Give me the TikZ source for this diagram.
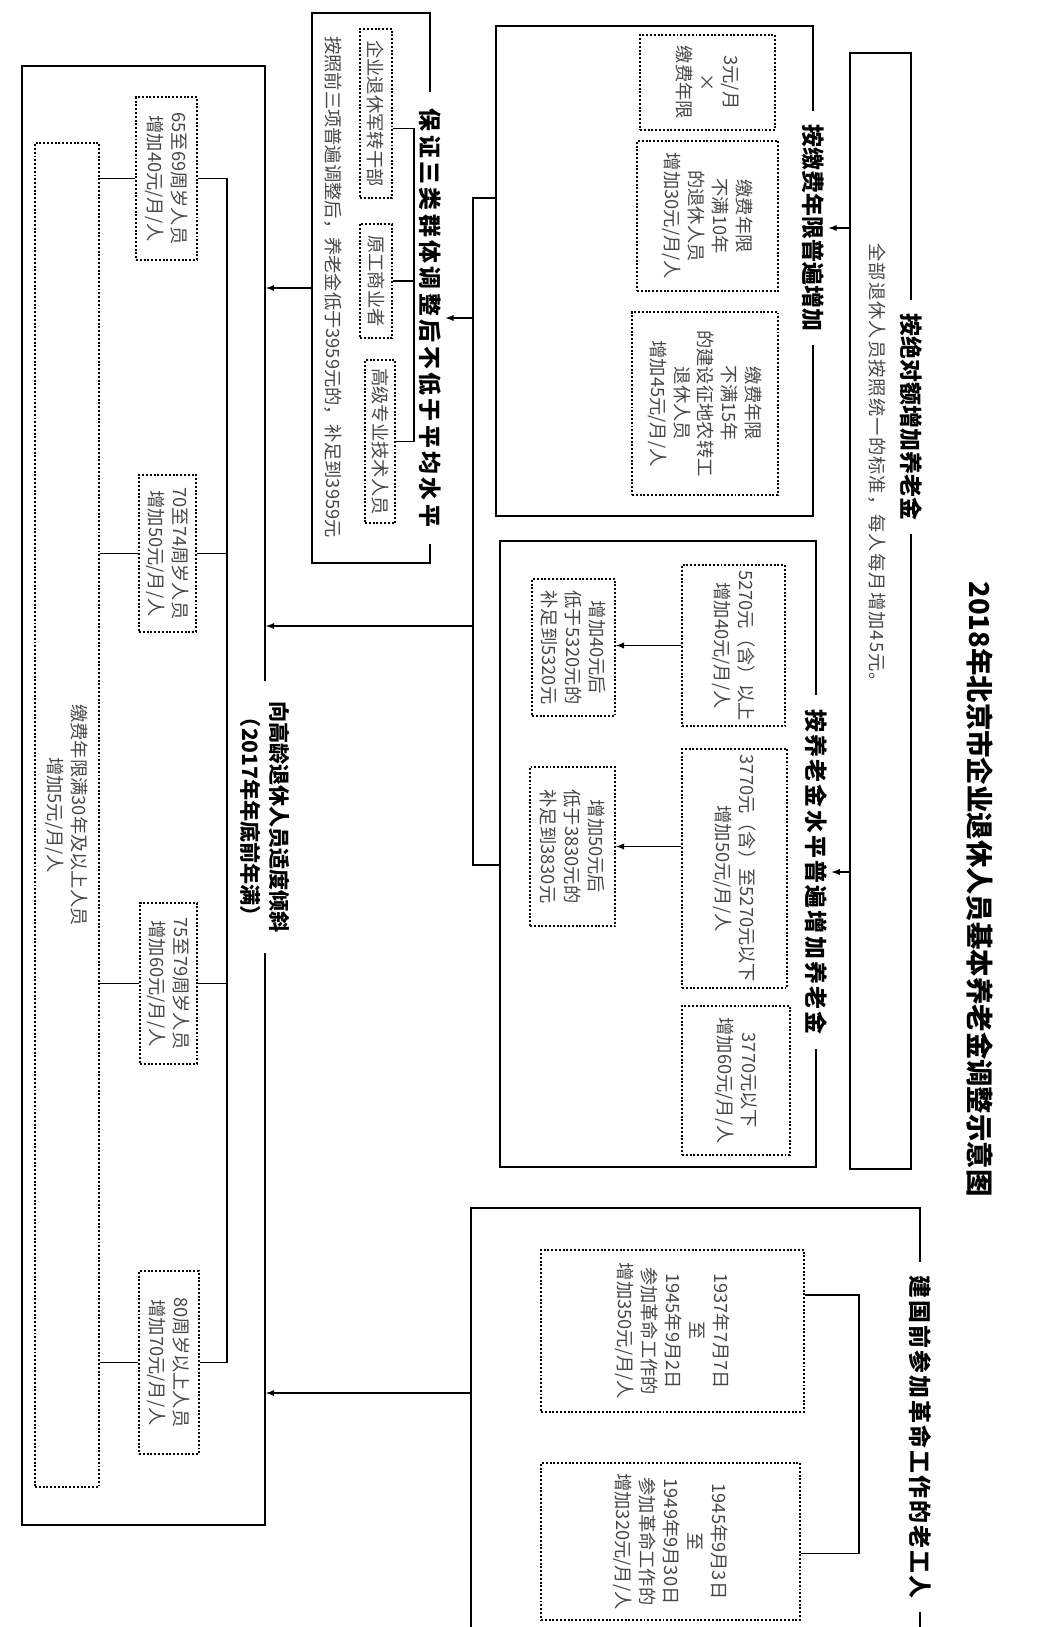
\documentclass[tikz,border=0pt]{standalone}
\usepackage{fontspec}
\setmainfont{Noto Sans CJK SC}
\usetikzlibrary{fit}
\newcommand\bodyfont{\fontsize{13}{17}\selectfont}
\newcommand\headfont{\fontsize{16.3}{20}\selectfont\bfseries}

\begin{document}
\begin{tikzpicture}[x=0.025cm, y=-0.025cm,
  secbox/.style={draw, line width=1.5pt, inner sep=0pt},
  dotbox/.style={draw, line width=1.4pt, dash pattern=on 1.4pt off 1.3pt, inner sep=0pt},
  txt/.style={rotate=-90, align=center, font=\bodyfont, text=black!72, inner sep=0pt},
  head/.style={rotate=-90, align=center, font=\headfont, fill=white, inner xsep=10pt, inner ysep=3pt},
  link/.style={line width=1pt},
  arr/.style={line width=1pt, -latex}]
  \useasboundingbox (0,0) rectangle (1038,1627);
  \clip (0,0) rectangle (1038,1627);
  \fill[white] (0,0) rectangle (1038,1627);

  \node[rotate=-90, font=\fontsize{19.5}{22}\selectfont\bfseries] (title) at (980,889)
    {2018年北京市企业退休人员基本养老金调整示意图};

  % boxes
  \node[secbox, fit={(850,53) (911,1169)}] (abs) {};
  \node[secbox, fit={(496,26) (813,516)}] (pay) {};
  \node[secbox, fit={(312,13) (430,563)}] (grt) {};
  \node[secbox, fit={(500,541) (816,1167)}] (lvl) {};
  \node[secbox, fit={(22,66) (265,1525)}] (old) {};
  \node[secbox, fit={(471,1208) (920,1690)}] (rev) {};

  \node[txt, anchor=west, font={\bodyfont\addfontfeature{LetterSpace=6}}] (absS) at (877,243) {全部退休人员按照统一的标准，每人每月增加45元。};

  \node[dotbox, fit={(640,35) (775,130)}] (pay1) {};
  \node[dotbox, fit={(637,141) (778,291)}] (pay2) {};
  \node[dotbox, fit={(632,312) (778,495)}] (pay3) {};
  \node[txt] (pay1t) at (pay1) {3元/月\\×\\缴费年限};
  \node[txt] (pay2t) at (pay2) {缴费年限\\不满10年\\的退休人员\\增加30元/月/人};
  \node[txt] (pay3t) at (pay3) {缴费年限\\不满15年\\的建设征地农转工\\退休人员\\增加45元/月/人};

  \node[dotbox, fit={(360,29) (392,198)}] (grt1) {};
  \node[dotbox, fit={(360,224) (392,338)}] (grt2) {};
  \node[dotbox, fit={(365,360) (395,523)}] (grt3) {};
  \node[txt] (grt1t) at (grt1) {企业退休军转干部};
  \node[txt] (grt2t) at (grt2) {原工商业者};
  \node[txt] (grt3t) at (grt3) {高级专业技术人员};
  \node[txt] (grtS) at (333,287) {按照前三项普遍调整后，养老金低于3959元的，补足到3959元};
  \draw[link] ([yshift=-0.38cm]grt1.east) -- ++(21,0) coordinate (grtB) -- (grtB |- grt3.east) -- (grt3.east);
  \draw[link] (grt2.east) -- (grt2.east -| grtB);

  \node[dotbox, fit={(682,565) (785,726)}] (lvl1) {};
  \node[dotbox, fit={(682,749) (787,988)}] (lvl2) {};
  \node[dotbox, fit={(682,1006) (790,1155)}] (lvl3) {};
  \node[dotbox, fit={(532,579) (615,716)}] (lvl4) {};
  \node[dotbox, fit={(530,767) (615,926)}] (lvl5) {};
  \node[txt] (lvl1t) at (lvl1) {5270元（含）以上\\增加40元/月/人};
  \node[txt] (lvl2t) at (lvl2) {3770元（含）至5270元以下\\增加50元/月/人};
  \node[txt] (lvl3t) at (lvl3) {3770元以下\\增加60元/月/人};
  \node[txt] (lvl4t) at (lvl4) {增加40元后\\低于5320元的\\补足到5320元};
  \node[txt] (lvl5t) at (lvl5) {增加50元后\\低于3830元的\\补足到3830元};
  \draw[arr] (lvl1.west) -- (lvl1.west -| lvl4.east);
  \draw[arr] (lvl2.west |- lvl5.east) -- (lvl5.east);

  \node[dotbox, fit={(136,97) (197,260)}] (age1) {};
  \node[dotbox, fit={(139,475) (196,632)}] (age2) {};
  \node[dotbox, fit={(140,903) (197,1064)}] (age3) {};
  \node[dotbox, fit={(139,1271) (199,1454)}] (age4) {};
  \node[dotbox, fit={(35,143) (99,1487)}] (yrs) {};
  \node[txt] (age1t) at (age1) {65至69周岁人员\\增加40元/月/人};
  \node[txt] (age2t) at (age2) {70至74周岁人员\\增加50元/月/人};
  \node[txt] (age3t) at (age3) {75至79周岁人员\\增加60元/月/人};
  \node[txt] (age4t) at (age4) {80周岁以上人员\\增加70元/月/人};
  \node[txt] (yrst) at (yrs) {缴费年限满30年及以上人员\\增加5元/月/人};
  \draw[link] (age1.east) -- ++(29,0) coordinate (ageB) -- (ageB |- age4.east) -- (age4.east);
  \draw[link] (age2.east) -- (age2.east -| ageB);
  \draw[link] (age3.east) -- (age3.east -| ageB);
  \draw[link] (age1.west) -- (age1.west -| yrs.east);
  \draw[link] (age2.west) -- (age2.west -| yrs.east);
  \draw[link] (age3.west) -- (age3.west -| yrs.east);
  \draw[link] (age4.west) -- (age4.west -| yrs.east);

  \node[dotbox, fit={(541,1250) (804,1412)}] (rev1) {};
  \node[dotbox, fit={(541,1463) (800,1620)}] (rev2) {};
  \node[txt] (rev1t) at (rev1) {1937年7月7日\\至\\1945年9月2日\\参加革命工作的\\增加350元/月/人};
  \node[txt] (rev2t) at (rev2) {1945年9月3日\\至\\1949年9月30日\\参加革命工作的\\增加320元/月/人};
  \coordinate (revJ) at ([yshift=-0.3cm]rev2.east);
  \draw[link] ([yshift=0.9cm]rev1.east) -- ++(54,0) coordinate (revB) -- (revB |- revJ) -- (revJ);

  % titles on the box edges
  \node[head] (absT) at (911,417) {按绝对额增加养老金};
  \node[head] (payT) at (813,228) {按缴费年限普遍增加};
  \node[head, font={\headfont\addfontfeature{LetterSpace=15}}, inner xsep=12pt] (grtT) at (430,318) {保证三类群体调整后不低于平均水平};
  \node[head, font={\headfont\addfontfeature{LetterSpace=10}}] (lvlT) at (816,872) {按养老金水平普遍增加养老金};
  \node[head, font={\fontsize{15}{20}\selectfont\bfseries}, inner xsep=14pt] (oldT) at (265,817) {向高龄退休人员适度倾斜\\（2017年年底前年满）};
  \node[head, font={\headfont\addfontfeature{LetterSpace=9}}] (revT) at (920,1437) {建国前参加革命工作的老工人};

  % connectors
  \draw[arr] (abs.west |- payT.north) -- (payT.north);
  \draw[arr] (abs.west |- lvlT.north) -- (lvlT.north);
  \coordinate (busA) at (473,198);
  \coordinate (busB) at (473,865);
  \coordinate (busC) at (473,626);
  \draw[link] (busA -| pay.west) -- (busA) -- (busB) -- (busB -| lvl.west);
  \draw[arr] (busA |- grtT) -- (grtT.north);
  \draw[arr] (busC) -- (busC -| old.east);
  \draw[arr] (grt.west) -- (grt.west -| old.east);
  \coordinate (revC) at (471,1393);
  \draw[arr] (rev.west |- revC) -- (revC -| old.east);
\end{tikzpicture}
\end{document}
